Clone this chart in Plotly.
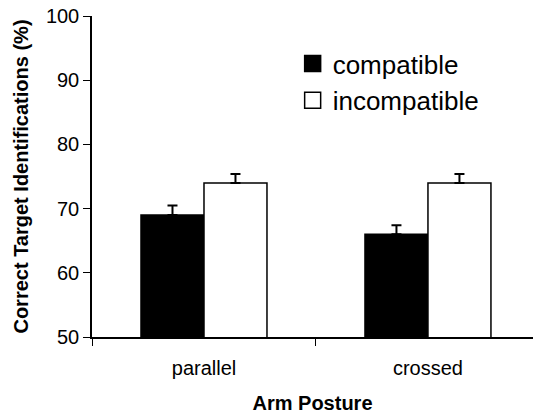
import plotly.graph_objects as go

categories = ["parallel", "crossed"]
compatible = [69, 66]
compatible_err = [1.5, 1.4]
incompatible = [74, 74]
incompatible_err = [1.4, 1.4]
series_names = ["compatible", "incompatible"]

FONT = "Liberation Sans, Arial, sans-serif"

fig = go.Figure()
fig.add_trace(go.Bar(
    name=series_names[0], x=categories, y=compatible, showlegend=False,
    marker=dict(color="black", line=dict(color="black", width=1.5)),
    error_y=dict(type="data", array=compatible_err, arrayminus=[0, 0], symmetric=False,
                 color="black", thickness=2, width=5),
))
fig.add_trace(go.Bar(
    name=series_names[1], x=categories, y=incompatible, showlegend=False,
    marker=dict(color="white", line=dict(color="black", width=1.5)),
    error_y=dict(type="data", array=incompatible_err, arrayminus=[0, 0], symmetric=False,
                 color="black", thickness=2, width=5),
))
# legend entries with larger square symbols
for name, fill in zip(series_names, ["black", "white"]):
    fig.add_trace(go.Scatter(
        name=name, x=[None], y=[None], mode="markers",
        marker=dict(symbol="square", size=16, color=fill, line=dict(color="black", width=1.5)),
    ))

fig.update_layout(
    width=533, height=414,
    margin=dict(l=92, r=0, t=16, b=77, autoexpand=False),
    paper_bgcolor="white", plot_bgcolor="white",
    barmode="group", bargap=0.4375, bargroupgap=0,
    font=dict(family=FONT, color="black", size=20),
    legend=dict(x=0.455, y=0.925, xanchor="left", yanchor="top",
                font=dict(size=26, family=FONT, color="black"),
                bgcolor="rgba(0,0,0,0)", itemwidth=30, itemsizing="trace", tracegroupgap=0),
    showlegend=True,
)
fig.update_xaxes(
    range=[-0.5, 1.469], automargin=False,
    showline=True, linecolor="black", linewidth=1.5,
    ticks="outside", tickson="boundaries", ticklen=7, tickcolor="black", tickwidth=1,
    tickfont=dict(size=20, family=FONT),
    ticklabelstandoff=12,
    title=dict(text="<b>Arm Posture</b>", font=dict(size=20, family=FONT), standoff=26),
    showgrid=False, zeroline=False,
)
fig.update_yaxes(
    range=[50, 100], dtick=10, tick0=50, automargin=False,
    showline=True, linecolor="black", linewidth=1.5,
    ticks="outside", ticklen=7, tickcolor="black", tickwidth=1,
    tickfont=dict(size=20, family=FONT),
    title=dict(text="<b>Correct Target Identifications (%)</b>", font=dict(size=20, family=FONT), standoff=12),
    showgrid=False, zeroline=False,
)

fig.write_html("out.html", config={"displayModeBar": False},
               post_script="document.body.style.margin='0';")
